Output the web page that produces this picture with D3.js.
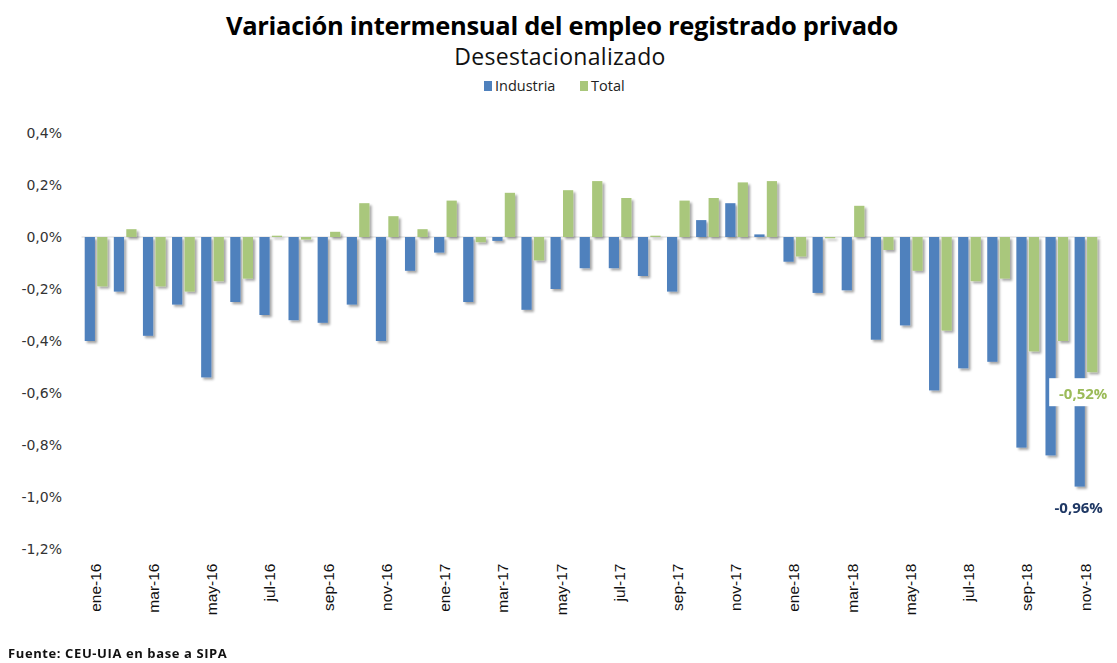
<!DOCTYPE html>
<html>
<head>
<meta charset="utf-8">
<script src="https://cdn.jsdelivr.net/npm/d3@7"></script>
<style>
  html, body { margin: 0; padding: 0; background: #fff; }
  svg { display: block; }
</style>
</head>
<body>
<svg id="chart" width="1117" height="663"></svg>
<script>
const months = ["ene-16","feb-16","mar-16","abr-16","may-16","jun-16","jul-16","ago-16","sep-16","oct-16","nov-16","dic-16",
                "ene-17","feb-17","mar-17","abr-17","may-17","jun-17","jul-17","ago-17","sep-17","oct-17","nov-17","dic-17",
                "ene-18","feb-18","mar-18","abr-18","may-18","jun-18","jul-18","ago-18","sep-18","oct-18","nov-18"];
const industria = [-0.40,-0.21,-0.38,-0.26,-0.54,-0.25,-0.30,-0.32,-0.33,-0.26,-0.40,-0.13,
                   -0.06,-0.25,-0.015,-0.28,-0.20,-0.12,-0.12,-0.15,-0.21,0.065,0.13,0.01,
                   -0.095,-0.215,-0.205,-0.395,-0.34,-0.59,-0.505,-0.48,-0.81,-0.84,-0.96];
const total = [-0.19,0.03,-0.19,-0.21,-0.17,-0.16,0.005,-0.01,0.02,0.13,0.08,0.03,
               0.14,-0.02,0.17,-0.09,0.18,0.215,0.15,0.005,0.14,0.15,0.21,0.215,
               -0.075,-0.005,0.12,-0.05,-0.13,-0.36,-0.17,-0.16,-0.44,-0.40,-0.52];
const tickLabels = ["ene-16","mar-16","may-16","jul-16","sep-16","nov-16","ene-17","mar-17","may-17","jul-17","sep-17","nov-17",
                    "ene-18","mar-18","may-18","jul-18","sep-18","nov-18"];
const yTicks = [0.4, 0.2, 0.0, -0.2, -0.4, -0.6, -0.8, -1.0, -1.2];
const seriesNames = ["Industria", "Total"];
const seriesColors = ["#4f81bd", "#a9c77b"];

const svg = d3.select("#chart");
const defs = svg.append("defs");
const f = defs.append("filter").attr("id","shadow").attr("x","-50%").attr("y","-20%").attr("width","200%").attr("height","140%");
f.append("feDropShadow").attr("dx",2.2).attr("dy",2.2).attr("stdDeviation",1.3)
  .attr("flood-color","#000").attr("flood-opacity",0.35);

const x0 = d3.scaleBand().domain(months).range([81.5, 1100.5]).paddingInner(0.22).paddingOuter(0.11);
const x1 = d3.scaleBand().domain(seriesNames).range([0, x0.bandwidth()]).paddingInner(0.18);
const y = d3.scaleLinear().domain([-1.2, 0.4]).range([549, 133]);
const color = d3.scaleOrdinal().domain(seriesNames).range(seriesColors);

// Title
svg.append("text").attr("x", 562).attr("y", 35).attr("text-anchor","middle")
  .style("font-family","'Open Sans', sans-serif").style("font-weight","bold").style("font-size","25.5px")
  .style("letter-spacing","-0.3px")
  .attr("fill","#000").text("Variación intermensual del empleo registrado privado");
svg.append("text").attr("x", 560).attr("y", 65).attr("text-anchor","middle")
  .style("font-family","'Open Sans', sans-serif").style("font-size","23px")
  .style("letter-spacing","0.3px")
  .attr("fill","#111").text("Desestacionalizado");

// Legend
const legend = svg.append("g").attr("transform","translate(484,86)");
const lItems = [{name:"Industria", x:0}, {name:"Total", x:96}];
lItems.forEach(it => {
  legend.append("rect").attr("x", it.x).attr("y", -5).attr("width", 8).attr("height", 10).attr("fill", color(it.name));
  legend.append("text").attr("x", it.x + 11).attr("y", 0).attr("dy","0.35em")
    .style("font-family","'Open Sans', sans-serif").style("font-size","14.5px").attr("fill","#222").text(it.name);
});

// Y axis (labels only)
const yAxis = d3.axisLeft(y).tickValues(yTicks).tickSize(0).tickPadding(0)
  .tickFormat(d => d3.format(".1f")(d).replace(".", ",").replace("−","-") + "%");
const yg = svg.append("g").attr("transform","translate(62,0)").call(yAxis);
yg.select(".domain").remove();
yg.selectAll("text").style("font-family","'DejaVu Sans', sans-serif").style("font-size","14px").attr("fill","#333");

// Zero line
svg.append("line").attr("x1", 81.5).attr("x2", 1100.5).attr("y1", y(0)).attr("y2", y(0))
  .attr("stroke","#d9d9d9").attr("stroke-width",1);

// Bars
const rows = months.map((m,i) => ({month:m, vals:[{k:"Industria", v:industria[i]}, {k:"Total", v:total[i]}]}));
const g = svg.append("g").attr("filter","url(#shadow)");
g.selectAll("g.grp").data(rows).join("g").attr("class","grp")
  .attr("transform", d => `translate(${x0(d.month)},0)`)
  .selectAll("rect").data(d => d.vals).join("rect")
  .attr("x", d => x1(d.k)).attr("width", x1.bandwidth())
  .attr("y", d => y(Math.max(0, d.v)))
  .attr("height", d => Math.max(0.8, Math.abs(y(d.v) - y(0))))
  .attr("fill", d => color(d.k));

// X axis labels
const xAxis = d3.axisBottom(x0).tickValues(tickLabels).tickSize(0).tickPadding(0);
const xg = svg.append("g").attr("transform","translate(0,562)").call(xAxis);
xg.select(".domain").remove();
xg.selectAll("text").attr("transform","rotate(-90)").attr("x",0).attr("y",0)
  .attr("dx","-0.1em").attr("dy","0.3em").attr("text-anchor","end")
  .style("font-family","'Liberation Sans', Arial, sans-serif").style("font-size","15.5px").attr("fill","#111");

// Data labels
const last = months.length - 1;
const tx = x0(months[last]) + x1("Total") + x1.bandwidth()/2;
const ix = x0(months[last]) + x1("Industria") + x1.bandwidth()/2;
const lblT = d3.format(".2f")(total[last]).replace(".", ",").replace("−","-") + "%";
const lblI = d3.format(".2f")(industria[last]).replace(".", ",").replace("−","-") + "%";
svg.append("rect").attr("x", tx - 43).attr("y", y(total[last]) + 6).attr("width", 70).attr("height", 28).attr("fill","#fff");
svg.append("text").attr("x", tx - 9).attr("y", y(total[last]) + 22).attr("dy","0.35em").attr("text-anchor","middle")
  .style("font-family","'Open Sans', sans-serif").style("font-weight","bold").style("font-size","15px")
  .attr("fill","#9bbb59").text(lblT);
svg.append("text").attr("x", ix - 1).attr("y", y(industria[last]) + 21).attr("dy","0.35em").attr("text-anchor","middle")
  .style("font-family","'Open Sans', sans-serif").style("font-weight","bold").style("font-size","15px")
  .attr("fill","#1f3864").text(lblI);

// Footer
svg.append("text").attr("x", 8).attr("y", 658)
  .style("font-family","'Open Sans', sans-serif").style("font-weight","bold").style("font-size","13px")
  .style("letter-spacing","0.6px")
  .attr("fill","#111").text("Fuente: CEU-UIA  en base a SIPA");
</script>
</body>
</html>
